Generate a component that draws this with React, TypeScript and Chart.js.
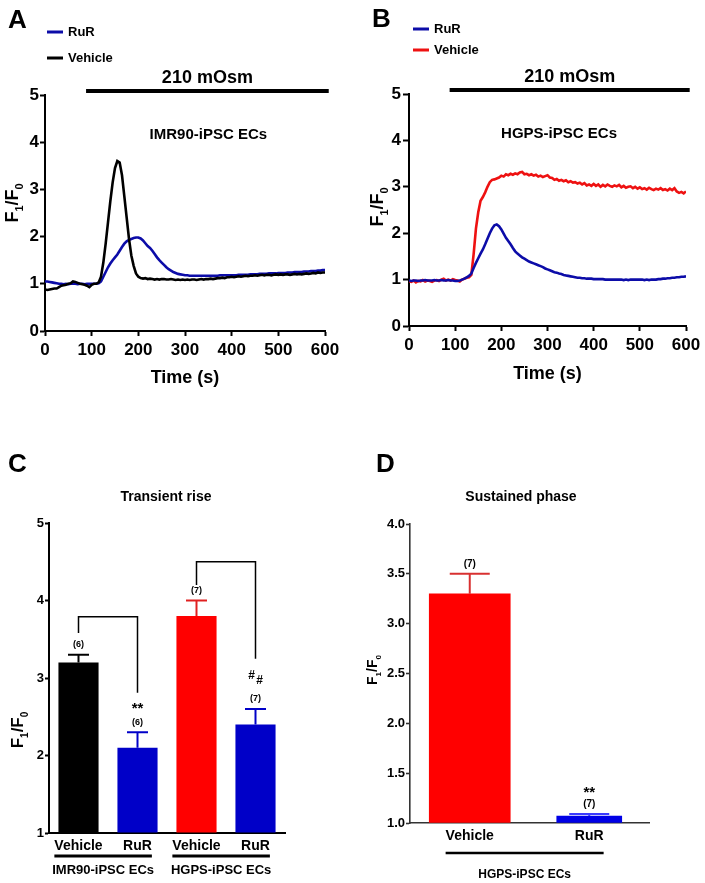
import React, { useEffect, useRef } from "react";
import { Chart, registerables } from "chart.js";
Chart.register(...registerables);

// ---------------- DATA ----------------
const TIMES = [
  0, 5, 10, 15, 20, 25, 30, 35, 40, 45,
  50, 55, 60, 65, 70, 75, 80, 85, 90, 95,
  100, 105, 110, 115, 120, 125, 130, 135, 140, 145,
  150, 155, 160, 165, 170, 175, 180, 185, 190, 195,
  200, 205, 210, 215, 220, 225, 230, 235, 240, 245,
  250, 255, 260, 265, 270, 275, 280, 285, 290, 295,
  300, 305, 310, 315, 320, 325, 330, 335, 340, 345,
  350, 355, 360, 365, 370, 375, 380, 385, 390, 395,
  400, 405, 410, 415, 420, 425, 430, 435, 440, 445,
  450, 455, 460, 465, 470, 475, 480, 485, 490, 495,
  500, 505, 510, 515, 520, 525, 530, 535, 540, 545,
  550, 555, 560, 565, 570, 575, 580, 585, 590, 595,
  600,
];

// Panel A – IMR90-iPSC ECs
const A_VEHICLE = [
  0.88, 0.87, 0.88, 0.89, 0.90, 0.90, 0.93, 0.96, 0.97, 0.98,
  1.00, 1.01, 1.05, 1.04, 1.02, 1.00, 0.99, 0.98, 0.96, 0.93,
  0.98, 1.00, 1.00, 1.03, 1.15, 1.45, 1.85, 2.30, 2.75, 3.15,
  3.45, 3.60, 3.57, 3.30, 2.85, 2.40, 1.95, 1.60, 1.38, 1.22,
  1.15, 1.12, 1.11, 1.12, 1.10, 1.11, 1.10, 1.09, 1.10, 1.09,
  1.10, 1.10, 1.09, 1.09, 1.10, 1.09, 1.08, 1.09, 1.08, 1.09,
  1.08, 1.09, 1.08, 1.09, 1.09, 1.08, 1.09, 1.10, 1.09, 1.10,
  1.10, 1.11, 1.10, 1.11, 1.12, 1.12, 1.13, 1.12, 1.14, 1.14,
  1.15, 1.14, 1.15, 1.16, 1.15, 1.16, 1.17, 1.16, 1.17, 1.17,
  1.18, 1.17, 1.18, 1.19, 1.18, 1.19, 1.19, 1.18, 1.19, 1.20,
  1.19, 1.20, 1.19, 1.20, 1.20, 1.19, 1.20, 1.21, 1.20, 1.21,
  1.20, 1.21, 1.22, 1.21, 1.22, 1.23, 1.22, 1.24, 1.23, 1.24,
  1.24,
];
const A_RUR = [
  1.05, 1.05, 1.04, 1.03, 1.02, 1.01, 1.00, 1.00, 0.99, 1.00,
  0.99, 1.00, 1.00, 1.00, 0.99, 1.00, 1.00, 0.99, 1.00, 1.00,
  1.00, 1.00, 1.00, 1.01, 1.05, 1.15, 1.25, 1.35, 1.43, 1.50,
  1.56, 1.62, 1.70, 1.78, 1.85, 1.90, 1.93, 1.95, 1.97, 1.98,
  1.98, 1.96, 1.92, 1.86, 1.80, 1.76, 1.70, 1.63, 1.56, 1.50,
  1.45, 1.40, 1.35, 1.31, 1.28, 1.25, 1.23, 1.21, 1.20, 1.19,
  1.18, 1.18, 1.17, 1.17, 1.17, 1.17, 1.17, 1.17, 1.17, 1.17,
  1.17, 1.17, 1.17, 1.17, 1.17, 1.18, 1.18, 1.18, 1.18, 1.18,
  1.18, 1.18, 1.18, 1.19, 1.19, 1.19, 1.19, 1.19, 1.20, 1.20,
  1.20, 1.20, 1.21, 1.21, 1.21, 1.21, 1.22, 1.22, 1.22, 1.22,
  1.23, 1.23, 1.23, 1.23, 1.24, 1.24, 1.24, 1.25, 1.25, 1.25,
  1.25, 1.26, 1.26, 1.26, 1.27, 1.27, 1.27, 1.28, 1.28, 1.29,
  1.29,
];

// Panel B – HGPS-iPSC ECs
const B_VEHICLE = [
  0.97, 0.95, 0.98, 0.94, 0.97, 0.96, 0.99, 0.96, 0.98, 0.97,
  0.95, 0.98, 0.99, 0.97, 1.00, 1.02, 0.98, 1.00, 0.98, 1.01,
  0.99, 0.98, 0.96, 1.00, 1.02, 1.04, 1.05, 1.10, 1.55, 2.10,
  2.45, 2.70, 2.78, 2.88, 3.00, 3.10, 3.15, 3.16, 3.18, 3.20,
  3.24, 3.22, 3.27, 3.25, 3.28, 3.26, 3.29, 3.27, 3.31, 3.32,
  3.27, 3.28, 3.25, 3.27, 3.24, 3.26, 3.22, 3.24, 3.21, 3.23,
  3.25, 3.20, 3.19, 3.15, 3.17, 3.13, 3.15, 3.12, 3.14, 3.10,
  3.12, 3.09, 3.10, 3.07, 3.09, 3.05, 3.08, 3.03, 3.05, 3.02,
  3.06, 3.02, 3.05, 3.00, 3.04, 3.01, 3.05, 3.02, 3.00, 3.03,
  3.01, 3.04, 2.99, 3.02, 2.98, 3.00, 3.01, 2.97, 3.00, 2.96,
  2.99, 2.95, 2.97, 2.94, 2.98, 2.95, 2.93, 2.96, 2.94, 2.97,
  2.93, 2.95, 2.92, 2.96, 2.93, 2.97, 2.90, 2.87, 2.89, 2.86,
  2.90,
];
const B_RUR = [
  0.98, 0.97, 0.98, 0.98, 0.97, 0.98, 0.98, 0.99, 0.98, 0.98,
  0.98, 0.99, 0.98, 0.98, 0.99, 0.98, 0.98, 0.99, 0.98, 0.98,
  0.97, 0.97, 0.98, 1.00, 1.02, 1.05, 1.08, 1.13, 1.25, 1.36,
  1.46, 1.56, 1.65, 1.76, 1.88, 2.00, 2.10, 2.17, 2.19, 2.15,
  2.08, 1.99, 1.90, 1.83, 1.76, 1.68, 1.61, 1.56, 1.52, 1.48,
  1.45, 1.42, 1.39, 1.37, 1.35, 1.33, 1.31, 1.29, 1.27, 1.24,
  1.22, 1.20, 1.18, 1.16, 1.15, 1.13, 1.12, 1.10, 1.09, 1.08,
  1.07, 1.06, 1.05, 1.04, 1.04, 1.03, 1.03, 1.02, 1.02, 1.02,
  1.01, 1.01, 1.01, 1.01, 1.01, 1.00, 1.00, 1.00, 1.00, 1.00,
  1.00, 1.00, 1.00, 0.99, 1.00, 0.99, 1.00, 1.00, 1.00, 1.00,
  1.00, 1.00, 0.99, 1.00, 0.99, 1.00, 1.00, 1.00, 1.01, 1.01,
  1.02, 1.02, 1.03, 1.03, 1.04, 1.04, 1.05, 1.05, 1.06, 1.06,
  1.07,
];

const OSMO_LABEL = "210 mOsm";
const OSMO_START = 88; // s
const OSMO_END = 608; // s
const CELL_A = "IMR90-iPSC ECs";
const CELL_B = "HGPS-iPSC ECs";

// Panel C – transient rise
const C_TITLE = "Transient rise";
const C_LABELS = ["Vehicle", "RuR", "Vehicle", "RuR"];
const C_MEANS = [3.2, 2.1, 3.8, 2.4];
const C_SEM = [0.1, 0.2, 0.2, 0.2];
const C_N = ["(6)", "(6)", "(7)", "(7)"];
const C_SIG = ["", "**", "", "##"];
const C_GROUPS = ["IMR90-iPSC ECs", "HGPS-iPSC ECs"];

// Panel D – sustained phase
const D_TITLE = "Sustained phase";
const D_LABELS = ["Vehicle", "RuR"];
const D_MEANS = [3.3, 1.07];
const D_SEM = [0.2, 0.02];
const D_N = ["(7)", "(7)"];
const D_SIG = ["", "**"];
const D_GROUP = "HGPS-iPSC ECs";

// ---------------- STYLE ----------------
const FONT = 'Arial, "Liberation Sans", Helvetica, sans-serif';
const fnt = (size: number) => `bold ${size}px ${FONT}`;
const BLACK = "#000000";
const LINE_BLUE = "#0c0ca8";
const LINE_RED = "#ee1111";
const BAR_BLUE = "#0000c8";
const BAR_RED = "#ff0000";
const C_COLORS = [BLACK, BAR_BLUE, BAR_RED, BAR_BLUE];
const C_ERR = [BLACK, BAR_BLUE, "#e02020", BAR_BLUE];
const D_COLORS = [BAR_RED, "#0000e6"];
const D_ERR = ["#d83030", "#3a3aff"];

type Area = { L: number; T: number; R: number; B: number };

function txt(
  ctx: CanvasRenderingContext2D,
  s: string,
  x: number,
  y: number,
  size: number,
  align: CanvasTextAlign = "center",
  baseline: CanvasTextBaseline = "middle",
  color = "#000"
) {
  ctx.save();
  ctx.font = fnt(size);
  ctx.fillStyle = color;
  ctx.textAlign = align;
  ctx.textBaseline = baseline;
  ctx.fillText(s, x, y);
  ctx.restore();
}

function seg(ctx: CanvasRenderingContext2D, x1: number, y1: number, x2: number, y2: number, color: string, w: number) {
  ctx.save();
  ctx.strokeStyle = color;
  ctx.lineWidth = w;
  ctx.beginPath();
  ctx.moveTo(x1, y1);
  ctx.lineTo(x2, y2);
  ctx.stroke();
  ctx.restore();
}

function ratioTitle(ctx: CanvasRenderingContext2D, cx: number, cy: number, size: number) {
  const big = fnt(size);
  const small = fnt(Math.round(size * 0.6));
  const parts: [string, string, number][] = [
    ["F", big, 0],
    ["1", small, size * 0.26],
    ["/F", big, 0],
    ["0", small, size * 0.26],
  ];
  ctx.save();
  ctx.translate(cx, cy);
  ctx.rotate(-Math.PI / 2);
  ctx.fillStyle = "#000";
  ctx.textAlign = "left";
  ctx.textBaseline = "alphabetic";
  let total = 0;
  const ws = parts.map(([s, fo]) => {
    ctx.font = fo;
    const w = ctx.measureText(s).width;
    total += w;
    return w;
  });
  let x = -total / 2;
  const base = size * 0.36;
  parts.forEach(([s, fo, dy], i) => {
    ctx.font = fo;
    ctx.fillText(s, x, base + dy);
    x += ws[i];
  });
  ctx.restore();
}

function axisCommon(tickLength: number, borderColor: string, borderWidth: number) {
  return {
    grid: {
      display: true,
      drawOnChartArea: false,
      drawTicks: tickLength > 0,
      tickLength,
      tickColor: borderColor,
      tickWidth: borderWidth,
      color: borderColor,
    },
    border: { display: true, color: borderColor, width: borderWidth },
  };
}

// ---------------- LINE PANELS (A, B) ----------------
function lineConfig(
  W: number,
  H: number,
  area: Area,
  datasets: any[],
  yTickLen: number,
  yTickPad: number,
  decor: (chart: any) => void
) {
  return {
    type: "line",
    data: { datasets },
    options: {
      responsive: false,
      animation: false,
      devicePixelRatio: 1,
      events: [],
      layout: { padding: { left: 0, top: area.T, right: W - area.R, bottom: 0 } },
      plugins: { legend: { display: false }, tooltip: { enabled: false } },
      scales: {
        x: {
          type: "linear",
          min: 0,
          max: 600,
          afterFit: (s: any) => {
            s.height = H - area.B;
          },
          ticks: { stepSize: 100, color: "#000", font: { family: FONT, size: 17, weight: "bold" }, padding: 4, maxRotation: 0 },
          ...axisCommon(5, "#000", 2),
        },
        y: {
          min: 0,
          max: 5,
          afterFit: (s: any) => {
            s.width = area.L;
          },
          ticks: { stepSize: 1, color: "#000", font: { family: FONT, size: 17, weight: "bold" }, padding: yTickPad },
          ...axisCommon(yTickLen, "#000", 2),
        },
      },
    },
    plugins: [{ id: "decor", afterDraw: decor }],
  };
}

function series(values: number[]) {
  return TIMES.map((t, i) => ({ x: t, y: values[i] }));
}

function lineDs(label: string, values: number[], color: string) {
  return {
    label,
    data: series(values),
    borderColor: color,
    backgroundColor: color,
    borderWidth: 2.6,
    pointRadius: 0,
    tension: 0,
    fill: false,
  };
}

function drawLinePanel(
  chart: any,
  letter: string,
  letterX: number,
  letterY: number,
  legendX: number,
  legendYs: number[],
  legendItems: [string, string][],
  osmoY: number,
  cell: string,
  cellT: number,
  titleX: number,
  titleY: number,
  timeY: number
) {
  const ctx: CanvasRenderingContext2D = chart.ctx;
  const xs = chart.scales.x;
  const ys = chart.scales.y;
  const ca = chart.chartArea;
  txt(ctx, letter, letterX, letterY, 26, "left", "alphabetic");
  legendItems.forEach(([label, color], i) => {
    seg(ctx, legendX, legendYs[i], legendX + 16, legendYs[i], color, 3);
    txt(ctx, label, legendX + 21, legendYs[i], 13, "left", "middle");
  });
  const x1 = xs.getPixelForValue(OSMO_START);
  const x2 = xs.getPixelForValue(OSMO_END);
  ctx.save();
  ctx.fillStyle = "#000";
  ctx.fillRect(x1, osmoY - 2, x2 - x1, 4);
  ctx.restore();
  txt(ctx, OSMO_LABEL, (x1 + x2) / 2, osmoY - 13, 18);
  txt(ctx, cell, xs.getPixelForValue(cellT), ys.getPixelForValue(4.15), 15);
  ratioTitle(ctx, titleX, titleY, 18);
  txt(ctx, "Time (s)", (ca.left + ca.right) / 2, timeY, 18);
}

function buildA() {
  const area = { L: 45, T: 95, R: 325, B: 331 };
  return lineConfig(
    350,
    420,
    area,
    [lineDs("Vehicle", A_VEHICLE, BLACK), lineDs("RuR", A_RUR, LINE_BLUE)],
    5,
    1,
    (chart: any) =>
      drawLinePanel(chart, "A", 8, 28, 47, [32, 58], [["RuR", LINE_BLUE], ["Vehicle", BLACK]], 91, CELL_A, 350, 12, 203, 378)
  );
}

function buildB() {
  const area = { L: 59, T: 94, R: 336, B: 326 };
  return lineConfig(
    355,
    420,
    area,
    [lineDs("RuR", B_RUR, LINE_BLUE), lineDs("Vehicle", B_VEHICLE, LINE_RED)],
    6,
    2,
    (chart: any) =>
      drawLinePanel(chart, "B", 22, 27, 63, [29, 50], [["RuR", LINE_BLUE], ["Vehicle", LINE_RED]], 90, CELL_B, 325, 27, 207, 374)
  );
}

// ---------------- BAR PANELS (C, D) ----------------
function barOptions(W: number, H: number, area: Area, yMin: number, yMax: number, step: number, yFont: number, yTickLen: number, yTickPad: number, xPad: number, axisColor: string, axisWidth: number, fmt?: (v: number) => string) {
  return {
    responsive: false,
    animation: false,
    devicePixelRatio: 1,
    events: [],
    layout: { padding: { left: 0, top: area.T, right: W - area.R, bottom: 0 } },
    plugins: { legend: { display: false }, tooltip: { enabled: false } },
    scales: {
      x: {
        type: "category",
        afterFit: (s: any) => {
          s.height = H - area.B;
        },
        ticks: { color: "#000", font: { family: FONT, size: 14, weight: "bold" }, padding: xPad, maxRotation: 0, autoSkip: false },
        ...axisCommon(0, axisColor, axisWidth),
      },
      y: {
        min: yMin,
        max: yMax,
        afterFit: (s: any) => {
          s.width = area.L;
        },
        ticks: {
          stepSize: step,
          color: "#000",
          font: { family: FONT, size: yFont, weight: "bold" },
          padding: yTickPad,
          callback: fmt ? (v: any) => fmt(Number(v)) : undefined,
        },
        ...axisCommon(yTickLen, axisColor, axisWidth),
      },
    },
  };
}

function drawErrAndLabels(
  ctx: CanvasRenderingContext2D,
  xs: any,
  ys: any,
  means: number[],
  sems: number[],
  errColors: string[],
  capHalf: number,
  ns: string[],
  nSize: number,
  sig: string[],
  sigGap: number
) {
  means.forEach((m, i) => {
    const cx = xs.getPixelForValue(i);
    const yTop = ys.getPixelForValue(m);
    const yErr = ys.getPixelForValue(m + sems[i]);
    seg(ctx, cx, yTop, cx, yErr, errColors[i], 2);
    seg(ctx, cx - capHalf, yErr, cx + capHalf, yErr, errColors[i], 2);
    const nY = yErr - 10;
    txt(ctx, ns[i], cx, nY, nSize);
    if (sig[i] === "**") {
      txt(ctx, "**", cx, nY - sigGap + 3, 15);
    } else if (sig[i] === "##") {
      txt(ctx, "#", cx - 4, nY - 23, 12);
      txt(ctx, "#", cx + 4, nY - 18, 12);
    }
  });
}

function drawGroupLine(ctx: CanvasRenderingContext2D, xs: any, labels: string[], i0: number, i1: number, lineY: number, lw: number, group: string, groupY: number, groupSize: number) {
  ctx.save();
  ctx.font = fnt(14);
  const left = xs.getPixelForValue(i0) - ctx.measureText(labels[i0]).width / 2;
  const right = xs.getPixelForValue(i1) + ctx.measureText(labels[i1]).width / 2;
  ctx.restore();
  seg(ctx, left, lineY, right, lineY, "#000", lw);
  txt(ctx, group, (left + right) / 2, groupY, groupSize);
}

function buildC() {
  const W = 350,
    H = 453;
  const area = { L: 49, T: 93, R: 285, B: 403 };
  return {
    type: "bar",
    data: {
      labels: C_LABELS,
      datasets: [
        {
          label: C_TITLE,
          data: C_MEANS,
          backgroundColor: C_COLORS,
          borderWidth: 0,
          base: 1,
          barPercentage: 0.68,
          categoryPercentage: 1,
        },
      ],
    },
    options: barOptions(W, H, area, 1, 5, 1, 13, 4, 1, 5, "#000", 2),
    plugins: [
      {
        id: "decorC",
        afterDraw: (chart: any) => {
          const ctx: CanvasRenderingContext2D = chart.ctx;
          const xs = chart.scales.x;
          const ys = chart.scales.y;
          txt(ctx, "C", 8, 42, 26, "left", "alphabetic");
          txt(ctx, C_TITLE, (chart.chartArea.left + chart.chartArea.right) / 2 - 1, 67, 14);
          ratioTitle(ctx, 17, 300, 17);
          drawErrAndLabels(ctx, xs, ys, C_MEANS, C_SEM, C_ERR, 10.5, C_N, 9, C_SIG, 16);
          const brackets: [number, number, number, number, number][] = [
            [0, 1, 3.79, 3.58, 2.81],
            [2, 3, 4.5, 4.2, 3.25],
          ];
          brackets.forEach(([a, b, top, le, re]) => {
            const xa = xs.getPixelForValue(a);
            const xb = xs.getPixelForValue(b);
            const yt = ys.getPixelForValue(top);
            ctx.save();
            ctx.strokeStyle = "#000";
            ctx.lineWidth = 1.5;
            ctx.beginPath();
            ctx.moveTo(xa, ys.getPixelForValue(le));
            ctx.lineTo(xa, yt);
            ctx.lineTo(xb, yt);
            ctx.lineTo(xb, ys.getPixelForValue(re));
            ctx.stroke();
            ctx.restore();
          });
          drawGroupLine(ctx, xs, C_LABELS, 0, 1, 426, 3, C_GROUPS[0], 440, 13);
          drawGroupLine(ctx, xs, C_LABELS, 2, 3, 426, 3, C_GROUPS[1], 440, 13);
        },
      },
    ],
  };
}

function buildD() {
  const W = 355,
    H = 453;
  const area = { L: 60, T: 94, R: 299, B: 393 };
  const thick = [81, 65];
  return {
    type: "bar",
    data: {
      labels: D_LABELS,
      datasets: D_MEANS.map((m, i) => ({
        label: D_LABELS[i],
        data: D_MEANS.map((v, j) => (j === i ? v : null)),
        backgroundColor: D_COLORS[i],
        borderWidth: 0,
        base: 1,
        grouped: false,
        barThickness: thick[i],
      })),
    },
    options: barOptions(W, H, area, 1, 4, 0.5, 13, 4, 1, 5, "#333333", 1.6, (v) => v.toFixed(1)),
    plugins: [
      {
        id: "decorD",
        afterDraw: (chart: any) => {
          const ctx: CanvasRenderingContext2D = chart.ctx;
          const xs = chart.scales.x;
          const ys = chart.scales.y;
          txt(ctx, "D", 26, 42, 26, "left", "alphabetic");
          txt(ctx, D_TITLE, 171, 67, 14);
          ratioTitle(ctx, 22, 240, 14);
          drawErrAndLabels(ctx, xs, ys, D_MEANS, D_SEM, D_ERR, 20, D_N, 10, D_SIG, 14);
          drawGroupLine(ctx, xs, D_LABELS, 0, 1, 423, 2.5, D_GROUP, 445, 12);
        },
      },
    ],
  };
}

// ---------------- COMPONENTS ----------------
function ChartCanvas(props: { left: number; top: number; width: number; height: number; build: () => any }) {
  const ref = useRef<HTMLCanvasElement>(null);
  useEffect(() => {
    const chart = new Chart(ref.current as HTMLCanvasElement, props.build());
    return () => chart.destroy();
  }, []);
  return (
    <canvas
      ref={ref}
      width={props.width}
      height={props.height}
      style={{ position: "absolute", left: props.left, top: props.top, width: props.width, height: props.height }}
    />
  );
}

export default function App() {
  return (
    <div style={{ position: "absolute", left: 0, top: 0, width: 705, height: 883, background: "#fff", overflow: "hidden" }}>
      <ChartCanvas left={0} top={0} width={350} height={420} build={buildA} />
      <ChartCanvas left={350} top={0} width={355} height={420} build={buildB} />
      <ChartCanvas left={0} top={430} width={350} height={453} build={buildC} />
      <ChartCanvas left={350} top={430} width={355} height={453} build={buildD} />
    </div>
  );
}
